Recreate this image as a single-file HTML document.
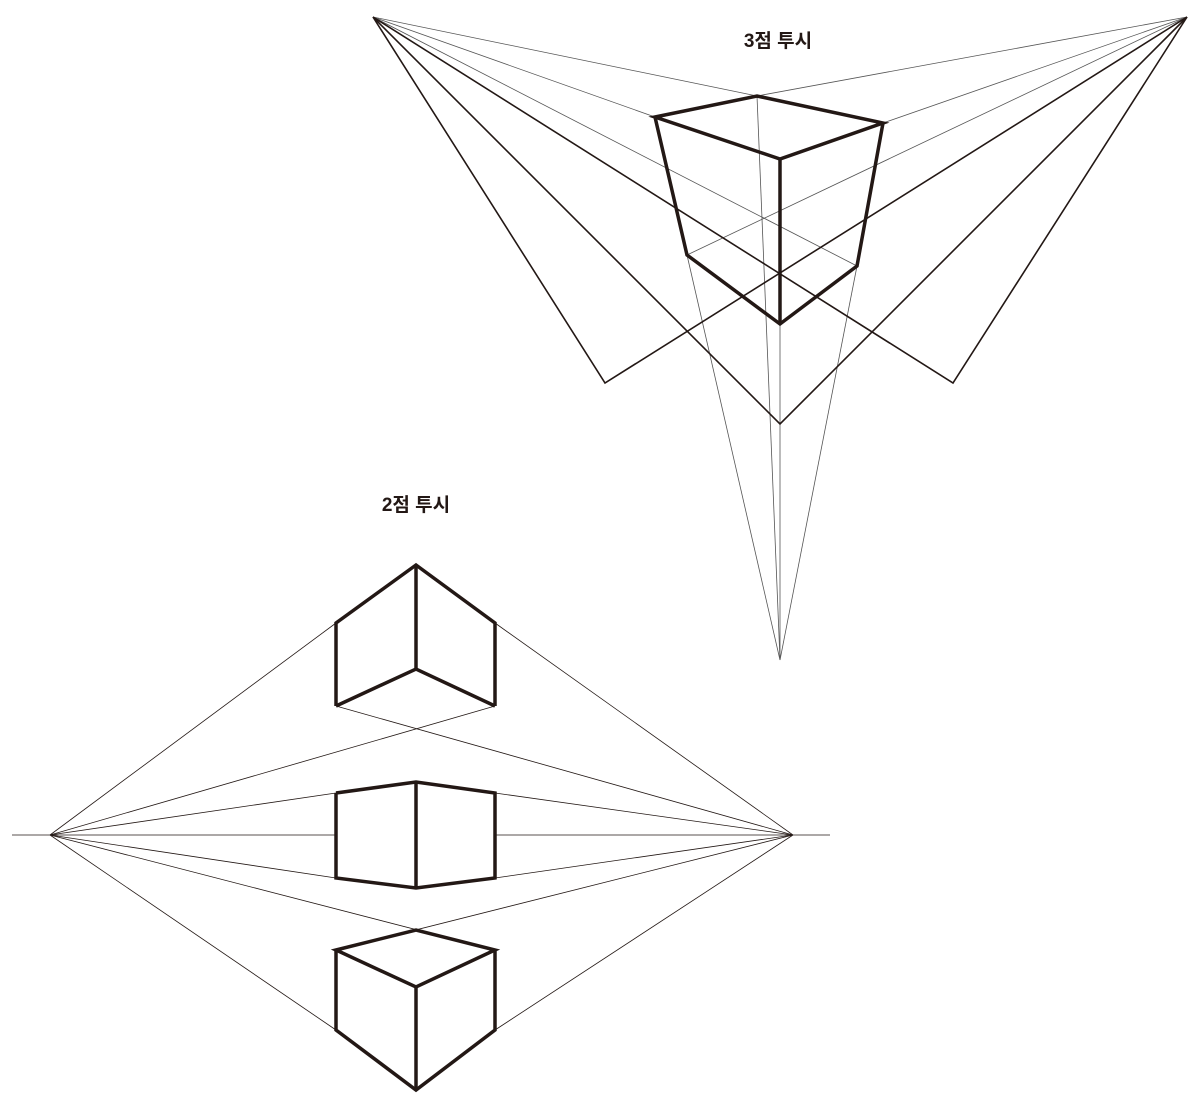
<!DOCTYPE html>
<html><head><meta charset="utf-8"><style>
html,body{margin:0;padding:0;background:#fff;width:1200px;height:1100px;overflow:hidden}
svg text{font-family:"Liberation Sans","Noto Sans CJK KR",sans-serif;font-weight:bold;font-size:19px;fill:#231815}
</style></head><body>
<svg width="1200" height="1100" viewBox="0 0 1200 1100">
<text x="778" y="47" text-anchor="middle">3점 투시</text>
<text x="416" y="511" text-anchor="middle">2점 투시</text>
<g stroke="#555" stroke-width="0.8" fill="none">
<line x1="373" y1="17" x2="757" y2="96"/>
<line x1="373" y1="17" x2="857" y2="266"/>
<line x1="373" y1="17" x2="655" y2="117"/>
<line x1="1187" y1="17" x2="757" y2="96"/>
<line x1="1187" y1="17" x2="687" y2="255"/>
<line x1="1187" y1="17" x2="883" y2="123"/>
<line x1="757" y1="96" x2="780" y2="660"/>
<line x1="687" y1="255" x2="780" y2="660"/>
<line x1="857" y1="266" x2="780" y2="660"/>
<line x1="780" y1="324" x2="780" y2="660"/>
</g>
<g stroke="#231815" stroke-width="1.6" fill="none">
<polyline points="373,17 605,383 1187,17"/>
<polyline points="1187,17 953,383 373,17"/>
<polyline points="373,17 780,424 1187,17"/>
</g>
<g stroke="#231815" stroke-width="3.5" fill="none" stroke-linejoin="miter">
<polygon points="655,117 757,96 883,123 780,159"/>
<line x1="780" y1="159" x2="780" y2="324"/>
<polyline points="655,117 687,255 780,324 857,266 883,123"/>
</g>
<g stroke="#231815" stroke-width="0.8" fill="none">
<line x1="12" y1="835" x2="336" y2="835"/>
<line x1="495" y1="835" x2="830" y2="835"/>
<line x1="50" y1="835" x2="336" y2="623"/>
<line x1="50" y1="835" x2="495" y2="706"/>
<line x1="50" y1="835" x2="336" y2="793"/>
<line x1="416" y1="782" x2="495" y2="793"/>
<line x1="50" y1="835" x2="336" y2="878"/>
<line x1="416" y1="888" x2="495" y2="878"/>
<line x1="50" y1="835" x2="495" y2="950"/>
<line x1="50" y1="835" x2="336" y2="1030"/>
<line x1="793" y1="835" x2="495" y2="623"/>
<line x1="793" y1="835" x2="336" y2="706"/>
<line x1="793" y1="835" x2="495" y2="793"/>
<line x1="793" y1="835" x2="495" y2="878"/>
<line x1="793" y1="835" x2="336" y2="950"/>
<line x1="793" y1="835" x2="495" y2="1030"/>
</g>
<g stroke="#231815" stroke-width="3.5" fill="none">
<polyline points="336,706 336,623 416,565 495,623 495,706"/>
<line x1="416" y1="565" x2="416" y2="669"/>
<polyline points="336,706 416,669 495,706"/>
<polyline points="336,793 416,782 495,793 495,878 416,888 336,878 336,793"/>
<line x1="416" y1="782" x2="416" y2="888"/>
<polygon points="336,950 416,930 495,950 416,987"/>
<line x1="416" y1="987" x2="416" y2="1090"/>
<polyline points="336,950 336,1030 416,1090 495,1030 495,950"/>
</g>
</svg>
</body></html>
